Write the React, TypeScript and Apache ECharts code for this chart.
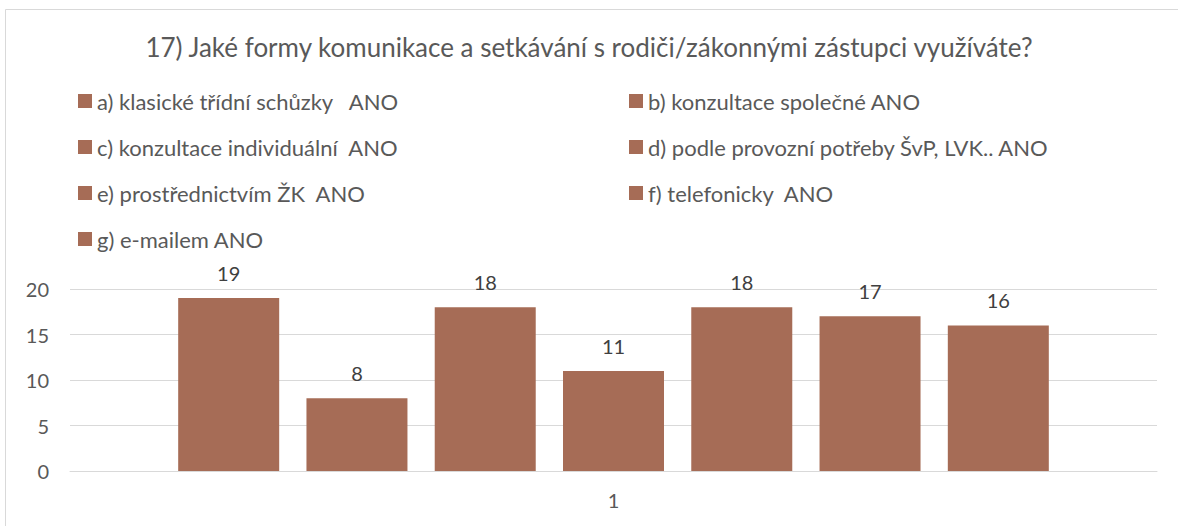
import React, { useEffect, useRef } from "react";
import * as echarts from "echarts";

const titleText = "17) Jaké formy komunikace a setkávání s rodiči/zákonnými zástupci využíváte?";
const categories = ["1"];
const seriesNames = [
  "a) klasické třídní schůzky   ANO",
  "b) konzultace společné ANO",
  "c) konzultace individuální  ANO",
  "d) podle provozní potřeby ŠvP, LVK.. ANO",
  "e) prostřednictvím ŽK  ANO",
  "f) telefonicky  ANO",
  "g) e-mailem ANO",
];
const seriesValues = [19, 8, 18, 11, 18, 17, 16];
const yTicks = { min: 0, max: 20, interval: 5 };

const FONT = "Lato";
const TEXT = "#595959";
const BAR = "#A66C56";
const GRID = "#D9D9D9";

export default function App() {
  const ref = useRef<HTMLDivElement>(null);
  useEffect(() => {
    if (!ref.current) return;
    const chart = echarts.init(ref.current, null, { renderer: "svg" });
    const leftNames = seriesNames.filter((_, i) => i % 2 === 0);
    const rightNames = seriesNames.filter((_, i) => i % 2 === 1);
    const legendCommon = {
      orient: "vertical" as const,
      top: 84,
      padding: 5,
      itemWidth: 14,
      itemHeight: 14,
      itemGap: 22,
      icon: "rect",
      selectedMode: false,
      textStyle: { fontFamily: FONT, fontSize: 22, color: TEXT, lineHeight: 24 },
    };
    chart.setOption({
      animation: false,
      backgroundColor: "#ffffff",
      textStyle: { fontFamily: FONT },
      title: {
        text: titleText,
        left: "center",
        top: 29,
        textStyle: { fontFamily: FONT, fontSize: 26, fontWeight: "normal", color: TEXT },
      },
      graphic: [
        {
          type: "rect",
          shape: { x: 5.5, y: 9.5, width: 1300, height: 700 },
          style: { fill: "none", stroke: GRID, lineWidth: 1 },
          silent: true,
        },
      ],
      legend: [
        { ...legendCommon, left: 73, data: leftNames },
        { ...legendCommon, left: 624, data: rightNames },
      ],
      grid: { left: 70, right: 21, top: 289, bottom: 55, containLabel: false },
      xAxis: {
        type: "category",
        data: categories,
        axisLine: { show: true, lineStyle: { color: GRID, width: 1 } },
        axisTick: { show: false },
        axisLabel: { fontFamily: FONT, fontSize: 20, color: TEXT, margin: 19 },
      },
      yAxis: {
        type: "value",
        min: yTicks.min,
        max: yTicks.max,
        interval: yTicks.interval,
        axisLine: { show: false },
        axisTick: { show: false },
        splitLine: { lineStyle: { color: GRID, width: 1 } },
        axisLabel: { fontFamily: FONT, fontSize: 20, color: TEXT, margin: 21 },
      },
      series: seriesNames.map((name, i) => ({
        name,
        type: "bar",
        data: [seriesValues[i]],
        barWidth: 101,
        barGap: "27%",
        itemStyle: { color: BAR },
        label: {
          show: true,
          position: "top",
          distance: 15,
          fontFamily: FONT,
          fontSize: 20,
          color: "#404040",
        },
      })),
    });
    return () => chart.dispose();
  }, []);
  return (
    <div
      ref={ref}
      style={{ position: "absolute", left: 0, top: 0, width: 1178, height: 526 }}
    />
  );
}
